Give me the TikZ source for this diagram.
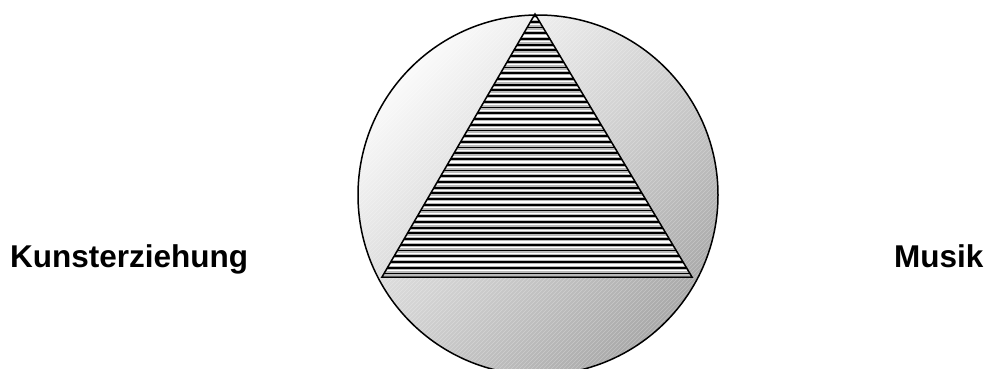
\documentclass[tikz,border=0pt]{standalone}
\usepackage{fontspec}
\setmainfont{Liberation Sans}
\begin{document}
\begin{tikzpicture}[x=1pt,y=-1pt,
  lbl/.style={font=\bfseries\fontsize{31.5}{36}\selectfont, inner sep=0pt, text=black},
  outline/.style={draw=black, line width=1.5pt}]
\useasboundingbox (0,0) rectangle (988,368);
\coordinate (c) at (538,195);
% circle with gradient and fine diagonal hatching
\begin{scope}
  \clip (c) circle (180);
  \shade[top color=gray!4, bottom color=gray!68, shading angle=45] (358,15) rectangle (718,375);
  \foreach \i in {-420,-416,...,760}
    \draw[white, opacity=0.28, line width=0.6pt] (\i,400) -- (\i+400,0);
\end{scope}
\draw[outline] (c) circle (180);
% striped triangle
\coordinate (A) at (535,14);
\coordinate (B) at (382,277);
\coordinate (C) at (692,277);
\begin{scope}
  \clip (A) -- (B) -- (C) -- cycle;
  \fill[gray!55] (370,10) rectangle (705,282);
  \foreach \k in {0,...,46}{
    \pgfmathsetmacro{\yy}{16+5.72*\k}
    \pgfmathsetmacro{\yw}{16+5.72*\k+2.9}
    \draw[black, line width=1.8pt] (370,\yy) -- (705,\yy);
    \draw[white, line width=1.3pt] (370,\yw) -- (705,\yw);
  }
\end{scope}
\draw[outline, line join=miter] (A) -- (B) -- (C) -- cycle;
% labels
\node[lbl, anchor=base west] (kunst) at (10,267) {Kunsterziehung};
\node[lbl, anchor=base west] (musik) at (894,267) {Musik};
\end{tikzpicture}
\end{document}
